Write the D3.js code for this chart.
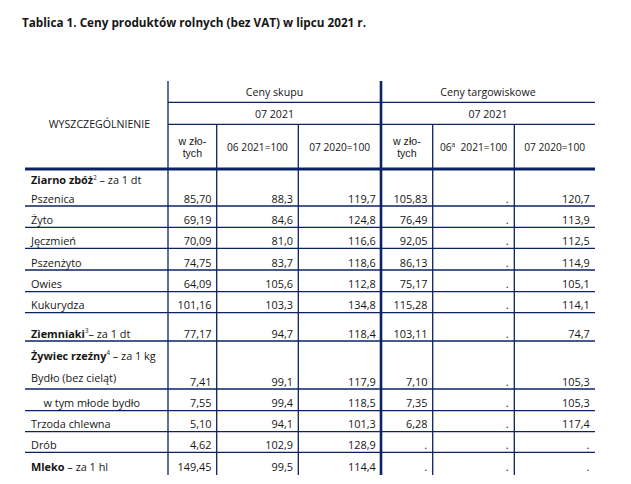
<!DOCTYPE html>
<html>
<head>
<meta charset="utf-8">
<script src="https://cdn.jsdelivr.net/npm/d3@7"></script>
<style>
  html, body { margin: 0; padding: 0; background: #ffffff; }
  svg { display: block; }
  text { font-family: "Open Sans", Lato, sans-serif; fill: #161616; }
</style>
</head>
<body>
<svg id="chart" width="631" height="484"></svg>
<script>
// ---------------- DATA ----------------
const title = "Tablica 1. Ceny produktów rolnych (bez VAT) w lipcu 2021 r.";
const stubHeader = "WYSZCZEGÓLNIENIE";
const groupHeaders = ["Ceny skupu", "Ceny targowiskowe"];
const periodHeader = "07 2021";
const colHeaders = [["w zło-", "tych"], ["06 2021=100"], ["07 2020=100"], ["w zło-", "tych"], ["06|a|2021=100"], ["07 2020=100"]];

const rowLabels = ["Pszenica", "Żyto", "Jęczmień", "Pszenżyto", "Owies", "Kukurydza",
                   "Ziemniaki", "Bydło (bez cieląt)", "w tym młode bydło", "Trzoda chlewna", "Drób", "Mleko"];
const rowBold   = [false, false, false, false, false, false, true, false, false, false, false, true];
const rowNotes  = ["", "", "", "", "", "", "3", "", "", "", "", ""];
const rowUnits  = ["", "", "", "", "", "", "– za 1 dt", "", "", "", "", " – za 1 hl"];
const rowIndent = [0, 0, 0, 0, 0, 0, 0, 0, 1, 0, 0, 0];

// section headings placed above a data row (index into rowLabels)
const sectionRow   = [0, 7];
const sectionName  = ["Ziarno zbóż", "Żywiec rzeźny"];
const sectionNote  = ["2", "4"];
const sectionUnit  = [" – za 1 dt", " – za 1 kg"];

// Ceny skupu
const skupZl    = [85.70, 69.19, 70.09, 74.75, 64.09, 101.16, 77.17, 7.41, 7.55, 5.10, 4.62, 149.45];
const skup0621  = [88.3, 84.6, 81.0, 83.7, 105.6, 103.3, 94.7, 99.1, 99.4, 94.1, 102.9, 99.5];
const skup0720  = [119.7, 124.8, 116.6, 118.6, 112.8, 134.8, 118.4, 117.9, 118.5, 101.3, 128.9, 114.4];
// Ceny targowiskowe (null = ".")
const targZl    = [105.83, 76.49, 92.05, 86.13, 75.17, 115.28, 103.11, 7.10, 7.35, 6.28, null, null];
const targ0621  = [null, null, null, null, null, null, null, null, null, null, null, null];
const targ0720  = [120.7, 113.9, 112.5, 114.9, 105.1, 114.1, 74.7, 105.3, 105.3, 117.4, null, null];

const columns = [skupZl, skup0621, skup0720, targZl, targ0621, targ0720];
const colDecimals = [2, 1, 1, 2, 1, 1];

// ---------------- LAYOUT ----------------
const LINE = "#0b2263";
const colEdges = [25, 168, 216.7, 298.3, 381, 432.7, 514.3, 595];
const headTop = 81, headLine1 = 102.3, headLine2 = 124.3, bodyTop = 169, tableBottom = 475;
const rowHeights = [37, 21.3, 21, 21.7, 21.7, 21, 28.3, 48, 21.7, 21, 20.6, 21.7];
const bodySize = 10.9, headSize = 10.6;

const svg = d3.select("#chart");
const loc = d3.formatLocale({decimal: ",", thousands: " ", grouping: [3], currency: ["", ""]});
const fmts = colDecimals.map(d => loc.format("." + d + "f"));

const rowTops = d3.cumsum([0].concat(rowHeights)).map(v => v + bodyTop);
const y = i => rowTops[i + 1]; // bottom of row i

// Title
svg.append("text")
  .attr("x", 22).attr("y", 26.5)
  .attr("font-size", 13).attr("font-weight", 700)
  .attr("fill", "#111")
  .attr("textLength", 344).attr("lengthAdjust", "spacingAndGlyphs")
  .text(title);

// ---- lines ----
const g = svg.append("g");
g.append("line").attr("x1", colEdges[1]).attr("x2", colEdges[1]).attr("y1", headTop).attr("y2", tableBottom)
  .attr("stroke", LINE).attr("stroke-width", 1.3);
g.append("line").attr("x1", colEdges[4]).attr("x2", colEdges[4]).attr("y1", headTop).attr("y2", tableBottom)
  .attr("stroke", LINE).attr("stroke-width", 2.6);
[2, 3, 5, 6].forEach(k => {
  g.append("line").attr("x1", colEdges[k]).attr("x2", colEdges[k]).attr("y1", headLine2).attr("y2", tableBottom)
    .attr("stroke", LINE).attr("stroke-width", 1.3);
});
[headLine1, headLine2].forEach(yy => {
  g.append("line").attr("x1", colEdges[1]).attr("x2", colEdges[7]).attr("y1", yy).attr("y2", yy)
    .attr("stroke", LINE).attr("stroke-width", 1.3);
});
g.append("line").attr("x1", colEdges[0]).attr("x2", colEdges[7]).attr("y1", bodyTop).attr("y2", bodyTop)
  .attr("stroke", LINE).attr("stroke-width", 3);
g.selectAll("line.row").data(rowLabels.slice(0, rowLabels.length - 1)).enter().append("line")
  .attr("class", "row")
  .attr("x1", colEdges[0]).attr("x2", colEdges[7])
  .attr("y1", (d, i) => y(i)).attr("y2", (d, i) => y(i))
  .attr("stroke", LINE).attr("stroke-width", 1.3);

// ---- header text ----
const ht = svg.append("g").attr("font-size", headSize);
ht.append("text").attr("x", (colEdges[0] + colEdges[1]) / 2 + 3).attr("y", 128)
  .attr("text-anchor", "middle").attr("font-size", 10.6).text(stubHeader);
ht.append("text").attr("x", (colEdges[1] + colEdges[4]) / 2).attr("y", 95.5)
  .attr("text-anchor", "middle").text(groupHeaders[0]);
ht.append("text").attr("x", (colEdges[4] + colEdges[7]) / 2).attr("y", 95.5)
  .attr("text-anchor", "middle").text(groupHeaders[1]);
[[1, 4], [4, 7]].forEach(([a, b]) => {
  ht.append("text").attr("x", (colEdges[a] + colEdges[b]) / 2).attr("y", 117.5)
    .attr("text-anchor", "middle").text(periodHeader);
});
colHeaders.forEach((lines, c) => {
  const cx = (colEdges[c + 1] + colEdges[c + 2]) / 2;
  if (lines.length === 2) {
    lines.forEach((s, j) => {
      ht.append("text").attr("x", cx).attr("y", 144.8 + j * 12.5).attr("text-anchor", "middle")
        .style("font-family", "'Liberation Sans', Arial, sans-serif").attr("font-size", 10.6)
        .text(s);
    });
  } else {
    const parts = lines[0].split("|");
    const t = ht.append("text").attr("x", cx).attr("y", 151).attr("text-anchor", "middle")
      .attr("font-size", 10.2);
    if (parts.length === 1) {
      t.text(parts[0]);
    } else {
      t.append("tspan").text(parts[0]);
      t.append("tspan").attr("font-size", 6.5).attr("dy", -4).text(parts[1]);
      t.append("tspan").attr("dy", 4).text("\u00a0\u00a0" + parts[2]);
    }
  }
});

// ---- body text ----
const bt = svg.append("g").attr("font-size", bodySize);

function richLabel(sel, name, bold, note, unit) {
  sel.append("tspan").attr("font-weight", bold ? 700 : 400).text(name);
  if (note) sel.append("tspan").attr("font-size", 6.2).attr("dy", -4.5).text(note);
  if (unit) sel.append("tspan").attr("dy", note ? 4.5 : 0).text(unit);
}

sectionRow.forEach((r, k) => {
  const t = bt.append("text").attr("x", 31).attr("y", rowTops[r] + (k === 0 ? 15 : 18.5));
  richLabel(t, sectionName[k], true, sectionNote[k], sectionUnit[k]);
});

rowLabels.forEach((lab, i) => {
  const isBydlo = sectionRow.indexOf(i) > 0;
  const t = bt.append("text")
    .attr("x", 31 + rowIndent[i] * 12.5)
    .attr("y", y(i) - (isBydlo ? 7.5 : 3.4));
  richLabel(t, lab, rowBold[i], rowNotes[i], rowUnits[i]);
});

columns.forEach((vals, c) => {
  const xr = colEdges[c + 2] - 5.2;
  bt.selectAll(null).data(vals).enter().append("text")
    .attr("x", (d) => d == null ? xr - 0.5 : xr)
    .attr("y", (d, i) => y(i) - 3.4)
    .attr("text-anchor", "end")
    .text(d => d == null ? "." : fmts[c](d));
});
</script>
</body>
</html>
